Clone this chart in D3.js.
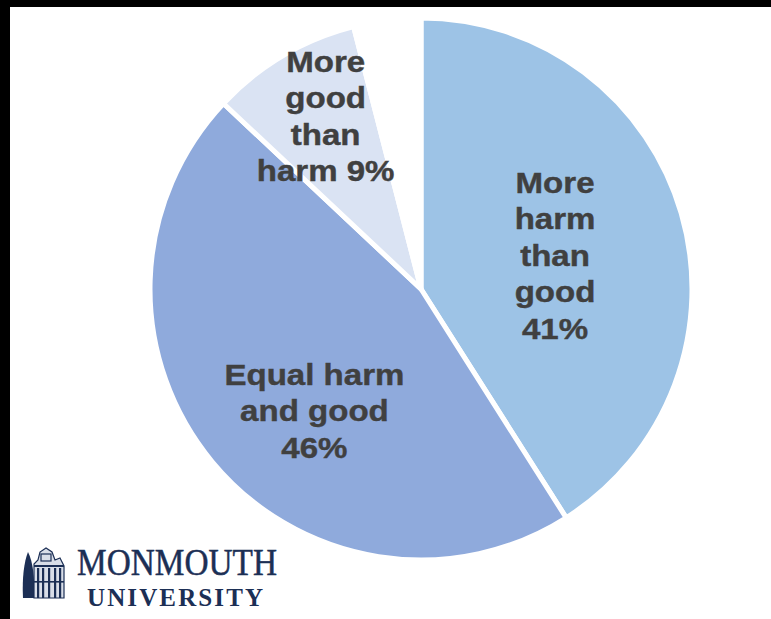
<!DOCTYPE html>
<html>
<head>
<meta charset="utf-8">
<script src="https://cdn.jsdelivr.net/npm/d3@7"></script>
<style>
  body { margin: 0; background: #fff; }
  svg { display: block; }
  .label { font-family: 'Liberation Sans', Arial, sans-serif; font-weight: bold; fill: #404040; }
</style>
</head>
<body>
<svg id="chart" width="771" height="619"></svg>
<script>
// Survey answer shares (percent); the last share has no label and stays blank
const categories = ['More harm than good', 'Equal harm and good', 'More good than harm', 'No answer'];
const values = [41, 46, 9, 4];
const labelLines = [
  ['More', 'harm', 'than', 'good', '41%'],
  ['Equal harm', 'and good', '46%'],
  ['More', 'good', 'than', 'harm 9%'],
  []
];
const colors = ['#9dc3e6', '#8faadc', '#dae3f3', '#ffffff'];

const width = 771;
const height = 619;
const cx = 421;
const cy = 289;
const radius = 271;

const svg = d3.select('#chart');

// Background and the black frame of the screenshot
svg.append('rect').attr('width', width).attr('height', height).attr('fill', '#fff');
svg.append('rect').attr('width', width).attr('height', 7).attr('fill', '#000');
svg.append('rect').attr('width', 10).attr('height', height).attr('fill', '#000');

// Pie layout, clockwise from 12 o'clock, keep data order
const pie = d3.pie().sort(null).value(d => d);
const arcs = pie(values);

const arc = d3.arc().innerRadius(0).outerRadius(radius);
const labelArc = d3.arc().innerRadius(150).outerRadius(150);

const g = svg.append('g').attr('transform', `translate(${cx},${cy})`);

g.selectAll('path')
  .data(arcs)
  .enter()
  .append('path')
    .attr('d', arc)
    .attr('fill', (d, i) => colors[i])
    .attr('stroke', '#fff')
    .attr('stroke-width', 5)
    .attr('stroke-linejoin', 'miter');

// Labels sit near the centroid, nudged to where the original puts them
const nudge = [[-10, 8], [9, 26], [-19, -44], [0, 0]];
const lineHeight = 36.5;

const labels = g.selectAll('g.label')
  .data(arcs)
  .enter()
  .append('g')
    .attr('class', 'label')
    .attr('transform', (d, i) => {
      const [x, y] = labelArc.centroid(d);
      return `translate(${x + nudge[i][0]},${y + nudge[i][1]}) scale(1.14,1)`;
    });

labels.each(function(d, i) {
  const lines = labelLines[i];
  const text = d3.select(this).append('text')
    .attr('text-anchor', 'middle')
    .style('font-size', '29px')
    .style('stroke', '#404040')
    .style('stroke-width', 0.4);
  text.selectAll('tspan')
    .data(lines)
    .enter()
    .append('tspan')
      .attr('x', 0)
      .attr('y', (l, j) => (j - (lines.length - 1) / 2) * lineHeight + 10.5)
      .text(l => l);
});

// Monmouth University logo, lower left
const logo = svg.append('g').attr('transform', 'translate(22,548)');
const navy = '#1c2f55';

// tree
logo.append('path')
  .attr('d', 'M6,4 C2,14 0,30 1,50 L12,50 C13,30 11,14 6,4 Z')
  .attr('fill', navy);
// tower
logo.append('path')
  .attr('d', 'M12,50 L12,16 L16,12 L18,4 L24,0 L30,4 L33,12 L38,10 L42,18 L42,50 Z')
  .attr('fill', '#d9dee8')
  .attr('stroke', navy)
  .attr('stroke-width', 1.2);
[15, 20, 26, 32, 37].forEach(x => {
  logo.append('rect')
    .attr('x', x).attr('y', 20).attr('width', 2.2).attr('height', 30)
    .attr('fill', navy);
});
logo.append('rect').attr('x', 12).attr('y', 17).attr('width', 30).attr('height', 2).attr('fill', navy);
logo.append('rect').attr('x', 12).attr('y', 33).attr('width', 30).attr('height', 1.6).attr('fill', navy);
logo.append('rect').attr('x', 19).attr('y', 6).attr('width', 10).attr('height', 7)
  .attr('fill', 'none').attr('stroke', navy).attr('stroke-width', 1.2);

svg.append('text')
  .attr('x', 77)
  .attr('y', 575)
  .attr('textLength', 200)
  .attr('lengthAdjust', 'spacingAndGlyphs')
  .style('font-family', "'Liberation Serif', 'Times New Roman', serif")
  .style('font-size', '38px')
  .style('fill', navy)
  .style('stroke', navy)
  .style('stroke-width', 0.5)
  .text('MONMOUTH');

svg.append('text')
  .attr('x', 87)
  .attr('y', 606)
  .attr('textLength', 176)
  .attr('lengthAdjust', 'spacing')
  .style('font-family', "'Liberation Serif', 'Times New Roman', serif")
  .style('font-size', '25px')
  .style('font-weight', 'bold')
  .style('fill', navy)
  .text('UNIVERSITY');
</script>
</body>
</html>
